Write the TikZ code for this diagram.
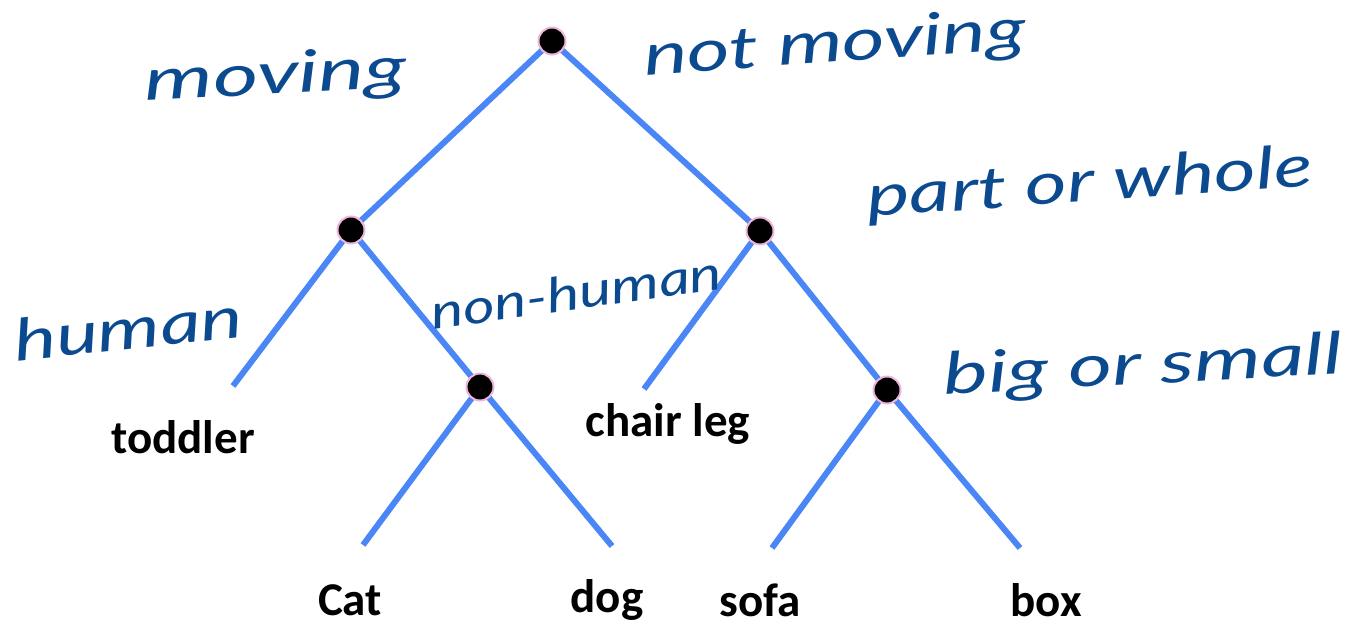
\documentclass[tikz,border=0pt]{standalone}
\usepackage{fontspec}
\setmainfont{Carlito}
\newfontfamily\handfont{Lato Italic}
\begin{document}
\begin{tikzpicture}[x=1pt,y=-1pt,
  edge/.style={draw=treeblue,line width=6pt},
  dot/.style={circle,fill=black,draw=dotpink,line width=2pt,minimum size=27pt,inner sep=0pt},
  leaf/.style={font=\bfseries\fontsize{47}{50}\selectfont,text=black,inner sep=0pt},
  hand/.style={font=\handfont\fontsize{58}{60}\selectfont,text=handblue,inner sep=0pt}]
\definecolor{treeblue}{HTML}{4A86F5}
\definecolor{dotpink}{HTML}{EFB3DC}
\definecolor{handblue}{HTML}{0B4A8F}
\useasboundingbox (0,0) rectangle (1351,621);
% endpoints
\coordinate (lt) at (233,386);
\coordinate (lc) at (363,545);
\coordinate (ld) at (612,546);
\coordinate (lch) at (644,389);
\coordinate (ls) at (772,548);
\coordinate (lb) at (1020,548);
\coordinate (A) at (552,41);
\coordinate (B) at (351,230);
\coordinate (C) at (760,231);
\coordinate (D) at (480,387);
\coordinate (E) at (887,390);
\draw[edge] (A) -- (B);
\draw[edge] (A) -- (C);
\draw[edge] (B) -- (lt);
\draw[edge] (B) -- (D);
\draw[edge] (D) -- (lc);
\draw[edge] (D) -- (ld);
\draw[edge] (C) -- (lch);
\draw[edge] (C) -- (E);
\draw[edge] (E) -- (ls);
\draw[edge] (E) -- (lb);
\node[dot] (nA) at (A) {};
\node[dot] (nB) at (B) {};
\node[dot] (nC) at (C) {};
\node[dot] (nD) at (D) {};
\node[dot] (nE) at (E) {};
% leaves
\node[leaf] (toddler) at (183,437) {toddler};
\node[leaf] (chairleg) at (668,424) {chair leg};
\node[leaf] (cat) at (350,600) {Cat};
\node[leaf] (dog) at (607,600) {dog};
\node[leaf] (sofa) at (760,600) {sofa};
\node[leaf] (box) at (1046,600) {box};
% handwritten labels
\node[hand,rotate=3,xscale=1.5] (moving) at (276,78) {moving};
\node[hand,rotate=4,xscale=1.42] (notmoving) at (835,46) {not moving};
\node[hand,rotate=4,xscale=1.39] (partwhole) at (1090,185) {part or whole};
\node[hand,rotate=6,xscale=1.37] (human) at (128,328) {human};
\node[hand,rotate=8,xscale=1.27,font=\handfont\fontsize{48}{50}\selectfont] (nonhuman) at (576,292) {non-human};
\node[hand,rotate=3,xscale=1.46] (bigsmall) at (1143,368) {big or small};
\end{tikzpicture}
\end{document}
